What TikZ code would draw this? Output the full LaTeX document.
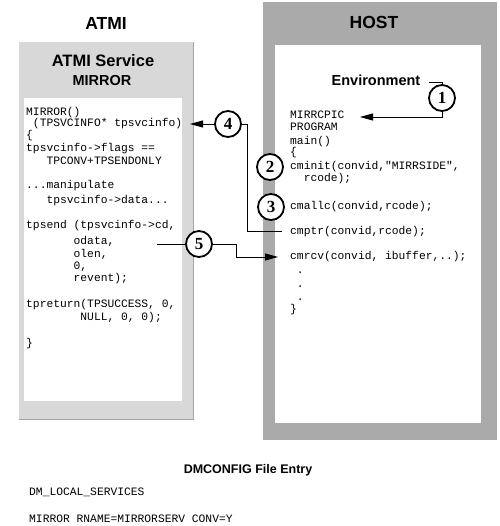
\documentclass[tikz,border=0pt]{standalone}
\usepackage{fontspec}
\setmainfont{Liberation Sans}
\newfontfamily\codefont{Liberation Mono}
\newfontfamily\numfont{Liberation Serif}
\usetikzlibrary{arrows.meta}
\definecolor{hostgray}{RGB}{170,170,170}
\definecolor{atmigray}{RGB}{216,216,216}
\definecolor{atmiedge}{RGB}{165,165,165}
\begin{document}
\begin{tikzpicture}[x=1pt,y=-1pt,
  codeline/.style={anchor=base west,inner sep=0pt,font=\codefont\fontsize{11.3}{12.5}\selectfont},
  bigtitle/.style={anchor=base,inner sep=0pt,font=\bfseries\fontsize{17.5}{20}\selectfont},
  midtitle/.style={anchor=base,inner sep=0pt,font=\bfseries\fontsize{14.5}{17}\selectfont},
  numcircle/.style={circle,draw,fill=white,line width=1.8pt,minimum size=26pt,inner sep=0pt,font=\numfont\bfseries\fontsize{17}{17}\selectfont},
  conn/.style={line width=0.8pt},
  tip/.style={-{Triangle[length=13pt,width=7pt]}}
]
\useasboundingbox (0,0) rectangle (499,526);
% boxes
\fill[atmigray] (19,42) rectangle (193,419);
\draw[atmiedge,line width=0.8pt] (19,419) -- (193,419) -- (193,42);
\fill[white] (24,98) rectangle (182,401);
\fill[hostgray] (263,2) rectangle (497,440);
\fill[white] (275,45) rectangle (481,423);
% titles
\node[bigtitle] (tatmi) at (106,30) {ATMI};
\node[bigtitle] (thost) at (374,29) {HOST};
\node[bigtitle,font=\bfseries\fontsize{16.5}{20}\selectfont] (tsvc) at (103,67) {ATMI Service};
\node[midtitle] (tmirror) at (102,86) {MIRROR};
\node[midtitle] (tenv) at (376,86) {Environment};
% left code
\node[codeline] (l1) at (26,116) {MIRROR()};
\node[codeline] (l2) at (32.78,127) {(TPSVCINFO* tpsvcinfo)};
\node[codeline] (l3) at (26,139) {\{};
\node[codeline] (l4) at (26,152) {tpsvcinfo->flags ==};
\node[codeline] (l5) at (46.34,165) {TPCONV+TPSENDONLY};
\node[codeline] (l6) at (26,189) {...manipulate};
\node[codeline] (l7) at (46.34,204) {tpsvcinfo->data...};
\node[codeline] (l8) at (26,229) {tpsend (tpsvcinfo->cd,};
\node[codeline] (l9) at (73.46,244) {odata,};
\node[codeline] (l10) at (73.46,257) {olen,};
\node[codeline] (l11) at (73.46,269) {0,};
\node[codeline] (l12) at (73.46,281) {revent);};
\node[codeline] (l13) at (26,307) {tpreturn(TPSUCCESS, 0,};
\node[codeline] (l14) at (80.24,320) {NULL, 0, 0);};
\node[codeline] (l15) at (26,346) {\}};
% host code
\node[codeline] (h1) at (290,119) {MIRRCPIC};
\node[codeline] (h2) at (290,131) {PROGRAM};
\node[codeline] (h3) at (290,145) {main()};
\node[codeline] (h4) at (290,156) {\{};
\node[codeline] (h5) at (290,170) {cminit(convid,"MIRRSIDE",};
\node[codeline] (h6) at (303.56,182) {rcode);};
\node[codeline] (h7) at (290,210) {cmallc(convid,rcode);};
\node[codeline] (h8) at (290,234) {cmptr(convid,rcode);};
\node[codeline] (h9) at (290,259) {cmrcv(convid, ibuffer,..);};
\node[codeline] (h10) at (296.78,273) {.};
\node[codeline] (h11) at (296.78,287) {.};
\node[codeline] (h12) at (296.78,300) {.};
\node[codeline] (h13) at (290,312) {\}};
% numbered circles
\node[numcircle] (n1) at (442,98) {1};
\node[numcircle] (n2) at (270,167) {2};
\node[numcircle] (n3) at (271,207) {3};
\node[numcircle] (n4) at (228,124) {4};
\node[numcircle] (n5) at (199,244) {5};
% connector coordinates
\coordinate (e1) at (429,82);
\coordinate (a1) at (360,117);
\coordinate (c4s) at (282,231);
\coordinate (c4c) at (247,231);
\coordinate (a4) at (190,124);
\coordinate (c5s) at (157,244);
\coordinate (c5c) at (236,244);
\coordinate (a5) at (278,257);
% connectors
\draw[conn] (e1) -| (n1.north);
\draw[conn,tip] (n1.south) |- (a1);
\draw[conn] (c4s) -- (c4c) |- (n4.east);
\draw[conn,tip] (n4.west) -- (a4);
\draw[conn] (c5s) -- (n5.west);
\draw[conn,tip] (n5.east) -- (c5c) |- (a5);
% DMCONFIG
\node[anchor=base,inner sep=0pt,font=\bfseries\fontsize{12.5}{15}\selectfont] (tdm) at (248,473) {DMCONFIG File Entry};
\node[codeline] (d1) at (29,495) {DM\_LOCAL\_SERVICES};
\node[codeline] (d2) at (29,522) {MIRROR RNAME=MIRRORSERV CONV=Y};
\end{tikzpicture}
\end{document}
